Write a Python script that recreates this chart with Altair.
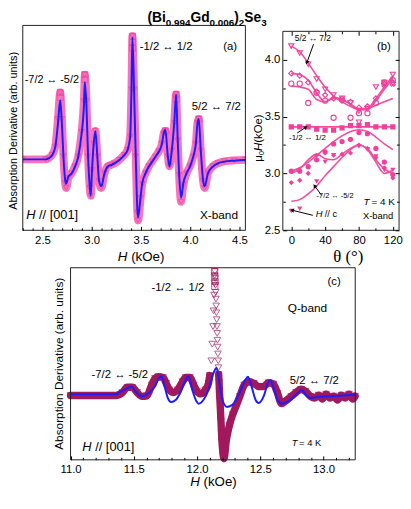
import altair as alt
import pandas as pd

FONT = "Liberation Sans"
SERIF = "Liberation Serif"
BLUE = "#1c1cff"
PINK = "#f0409c"
PINK_BAND = "#f774bc"
MAG = "#a0195c"
B_LINE = "#f24d9f"

# ---------------- Panel (a): X-band spectrum, H // [001] ----------------
a_fit_H = [2.30, 2.53, 2.56, 2.597, 2.63, 2.657, 2.68, 2.697, 2.713, 2.73, 2.74, 2.763, 2.797, 2.83,
           2.863, 2.897, 2.92, 2.93, 2.947, 2.963, 2.98, 2.99, 3.003, 3.02, 3.037, 3.057, 3.073, 3.097,
           3.13, 3.163, 3.197, 3.23, 3.28, 3.33, 3.363, 3.39, 3.403, 3.413, 3.43, 3.447, 3.463, 3.47,
           3.497, 3.513, 3.547, 3.58, 3.613, 3.647, 3.68, 3.713, 3.73, 3.747, 3.773, 3.79, 3.813, 3.837,
           3.857, 3.873, 3.887, 3.907, 3.93, 3.963, 3.997, 4.03, 4.057, 4.073, 4.087, 4.107, 4.13, 4.147,
           4.18, 4.23, 4.28, 4.347, 4.447, 4.56]
a_fit_v = [-1, -1, 0, 3.3, 11.7, 35, 59, 35, 1.7, -21.7, -25.7, -18.3, -15, -8.3,
           1.7, 25, 51.7, 77.7, 51.7, 1.7, -28.3, -37.7, -11.7, 15, 27.7, 1.7, -21.7, -28.3,
           -15, -8.3, -6.7, -5, -1.7, 3.3, 8.3, 21.7, 68, 123, 68, 1.7, -51.7, -60,
           -38.3, -25, -15, -8.3, -3.3, 1.7, 6.7, 15, 25, 29, 1.7, -8.3, 8.3, 35,
           65, 18.3, -15, -40, -25, -15, -8.3, 1.7, 15, 35, 40, 8.3, -21.7, -28.3,
           -15, -8.3, -5, -3.3, -2.3, -1.7]
a_dat_H = [2.30, 2.53, 2.56, 2.597, 2.63, 2.657, 2.68, 2.697, 2.713, 2.73, 2.74, 2.763, 2.797, 2.83,
           2.863, 2.897, 2.92, 2.93, 2.947, 2.963, 2.98, 2.99, 3.003, 3.02, 3.037, 3.057, 3.073, 3.097,
           3.13, 3.163, 3.197, 3.23, 3.28, 3.33, 3.363, 3.39, 3.403, 3.413, 3.43, 3.447, 3.463, 3.47,
           3.497, 3.513, 3.547, 3.58, 3.613, 3.647, 3.68, 3.713, 3.73, 3.747, 3.773, 3.79, 3.813, 3.837,
           3.857, 3.873, 3.887, 3.907, 3.93, 3.963, 3.997, 4.03, 4.057, 4.073, 4.087, 4.107, 4.13, 4.147,
           4.18, 4.23, 4.28, 4.347, 4.447, 4.56]
a_dat_v = [-1, -1, 0, 3.5, 12, 40, 67, 40, 2, -25, -30, -20, -15, -8,
           2, 27, 58, 85, 58, 2, -30, -38, -12, 15, 28, 2, -23, -30,
           -15, -8, -6.5, -5, -1.5, 3.5, 8.5, 22, 70, 124, 70, 2, -55, -63,
           -40, -26, -15, -8, -3, 2, 7, 15, 25, 28, 2, -8, 8, 36,
           65, 18, -17, -44, -27, -15, -8, 2, 15, 36, 40, 8, -23, -30,
           -15, -8, -5, -3, -2, -1.5]
a_sq_H = [2.68, 2.68, 2.93, 2.93, 3.413, 3.413, 3.413, 3.747, 3.857, 3.857, 4.087]
a_sq_v = [67, 62, 85, 80, 124, 118, 112, 28, 65, 60, 40]
a_major = [2.5, 3.0, 3.5, 4.0, 4.5]
a_minor = [2.3, 2.4, 2.6, 2.7, 2.8, 2.9, 3.1, 3.2, 3.3, 3.4, 3.6, 3.7, 3.8, 3.9, 4.1, 4.2, 4.3, 4.4]

# ---------------- Panel (b): angular dependence ----------------
b_theta = [0, 10, 20, 30, 40, 50, 60, 70, 80, 90, 100, 110, 120]
b_otri_theta = [0, 10, 20, 30, 40, 50, 60, 70, 80, 80, 90, 100, 110, 120]
b_otri_H = [4.12, 4.06, 3.96, 3.83, 3.74, 3.69, 3.66, 3.62, 3.55, 3.45, 3.57, 3.76, 3.80, 3.87]
b_ocirc_H = [3.79, 3.79, 3.62, 3.71, 3.64, 3.49, 3.65, 3.49, 3.53, 3.53, 3.62, 3.80, 3.82]
b_odiam_H = [3.88, 3.86, 3.80, 3.72, 3.69, 3.66, 3.64, 3.63, 3.58, 3.59, 3.66, 3.79, 3.80]
b_cross_theta = [110, 120]
b_cross_H = [3.78, 3.79]
b_fsq_H = [3.41, 3.41, 3.41, 3.39, 3.38, 3.38, 3.40, 3.42, 3.42, 3.43, 3.41, 3.41, 3.41]
b_fcirc_H = [3.02, 3.02, 3.06, 3.12, 3.19, 3.26, 3.28, 3.30, 3.36, 3.35, 3.22, 3.10, 2.99]
b_fdiam_H = [2.92, 2.94, 3.00, 3.16, 3.18, 3.16, 3.17, 3.18, 3.25, 3.22, 3.14, 3.05, 2.96]
b_ftri_theta = [0, 10, 30, 40, 50, 80, 90, 100, 110, 120]
b_ftri_H = [2.67, 2.69, 2.93, 3.10, 3.16, 3.24, 3.21, 3.15, 3.03, 3.03]
b_line1 = [4.12, 4.07, 3.97, 3.86, 3.76, 3.68, 3.63, 3.59, 3.56, 3.56, 3.64, 3.74, 3.84]
b_line2 = [3.88, 3.87, 3.82, 3.71, 3.63, 3.67, 3.65, 3.61, 3.56, 3.57, 3.66, 3.76, 3.86]
b_line3 = [3.77, 3.76, 3.74, 3.65, 3.63, 3.66, 3.65, 3.61, 3.57, 3.57, 3.60, 3.63, 3.66]
b_line4 = [3.41, 3.41, 3.41, 3.41, 3.41, 3.41, 3.41, 3.41, 3.41, 3.41, 3.41, 3.41, 3.41]
b_line5 = [3.02, 3.05, 3.10, 3.16, 3.22, 3.28, 3.33, 3.37, 3.385, 3.37, 3.32, 3.26, 3.21]
b_line6 = [3.00, 3.04, 3.12, 3.17, 3.13, 3.12, 3.17, 3.22, 3.25, 3.21, 3.10, 3.00, 3.03]
b_line7 = [2.755, 2.77, 2.82, 2.89, 2.98, 3.06, 3.14, 3.21, 3.25, 3.22, 3.12, 3.04, 3.00]
b_arrow_t0 = [26.3, 6.9, 36.0, 25.5]
b_arrow_H0 = [4.137, 3.355, 2.806, 2.632]
b_arrow_t1 = [18.5, 17.3, 27.5, 1.0]
b_arrow_H1 = [3.975, 3.407, 2.892, 2.677]
b_arrow_angle = [200, 56, 324, 284]
b_x_major = [0, 40, 80, 120]
b_x_minor = [20, 60, 100]
b_y_major = [2.5, 3.0, 3.5, 4.0]
b_y_minor = [2.75, 3.25, 3.75]

# ---------------- Panel (c): Q-band spectrum ----------------
c_fit_H = [11.000, 11.359, 11.385, 11.423, 11.482, 11.513, 11.564, 11.615, 11.667, 11.697, 11.718,
           11.744, 11.769, 11.795, 11.833, 11.872, 11.910, 11.931, 11.962, 11.995, 12.013, 12.051,
           12.090, 12.128, 12.154, 12.174, 12.200, 12.236, 12.282, 12.333, 12.379, 12.402, 12.431,
           12.462, 12.487, 12.526, 12.559, 12.579, 12.602, 12.636, 12.672, 12.718, 12.769, 12.800,
           12.825, 12.859, 12.897, 12.949, 13.025, 13.154, 13.246]
c_fit_v = [1, 1, 2.7, 5.3, 8.7, 3.7, -1.3, 2, 8.7, 17, 19.3,
           8.7, -3, -7, -4.7, 3.7, 15.3, 19.3, 5.3, -6.3, -8.7, -4.7,
           5.3, 22, 27.7, 15, -4.7, -12, -9.7, 1.7, 15, 18.7, 8.7,
           -4.7, -8, -1.3, 12, 15.3, 8.7, -4.7, -8.7, -6.3, -1.3, 2.7,
           5.3, 0.3, -3, -2, -1.3, -0.3, 0.3]
c_dat_H = [11.000, 11.179, 11.359, 11.410, 11.449, 11.487, 11.526, 11.564, 11.603, 11.641, 11.667,
           11.692, 11.731, 11.756, 11.782, 11.808, 11.846, 11.885, 11.910, 11.944, 11.974, 12.000,
           12.031, 12.064, 12.090, 12.100, 12.112, 12.120, 12.126, 12.130, 12.134, 12.137, 12.139,
           12.141, 12.143, 12.145, 12.147, 12.149, 12.151, 12.153, 12.155, 12.157, 12.159, 12.161,
           12.163, 12.165, 12.167, 12.169, 12.171, 12.174, 12.177, 12.181, 12.185, 12.189, 12.193,
           12.197, 12.202, 12.207, 12.213, 12.231, 12.256, 12.282, 12.308, 12.338, 12.372, 12.410,
           12.449, 12.487, 12.526, 12.564, 12.603, 12.636, 12.667, 12.697, 12.744, 12.782, 12.821,
           12.859, 12.897, 12.93, 12.96, 12.99, 13.02, 13.05, 13.08, 13.11, 13.14, 13.17, 13.20,
           13.23, 13.249]
c_dat_v = [-0.3, -0.3, -0.3, 2.7, 8, 8, 2.7, -1.3, -0.7, 10.3, 17,
           18.7, 18, 12, 5.3, 2.7, 5.3, 13.7, 18, 18, 10.3, 3.7,
           1.3, 5.3, 12, 20, 35, 52, 70, 86, 102, 114, 122,
           126, 119, 112, 105, 98, 91, 84, 77, 70, 63, 56,
           49, 42, 35, 28, 21, 13, 4, -6, -16, -27, -38,
           -48, -56, -62, -64.7, -46.3, -30.7, -19.7, -11.3, -1.3, 10.3, 13.7,
           12, 8.7, 8.7, 12.7, 11.3, 2, -8.7, -6.3, -1.3, 2.7, 6,
           3.7, -1.3, -3, 0, -4, 1, -3, -1, -5, 0, -3, 1,
           -4, -1]
# the dense, near-vertical part of the central line is shown by its markers only
c_band_gap = [12.100, 12.171]
c_sq_H = [12.138, 12.140, 12.142, 12.140]
c_sq_v = [126, 121, 116, 111]
c_major = [11.0, 11.5, 12.0, 12.5, 13.0]
c_minor = [11.1, 11.2, 11.3, 11.4, 11.6, 11.7, 11.8, 11.9, 12.1, 12.2, 12.3, 12.4,
           12.6, 12.7, 12.8, 12.9, 13.1, 13.2]


class Panel:
    def __init__(self, xs, xdom, ys, ydom):
        self.xs, self.xdom, self.ys, self.ydom = xs, xdom, ys, ydom

    def pos(self):
        return dict(x=alt.X("px:Q", scale=self.xs, axis=None, title=None),
                    y=alt.Y("py:Q", scale=self.ys, axis=None, title=None))

    def _one(self):
        return pd.DataFrame({"px": [self.xdom[0]], "py": [self.ydom[0]]})

    def txt(self, s, x, y, size=11.0, align="center", baseline="middle", style=None,
            weight=None, angle=None, font=FONT):
        kw = dict(text=s, fontSize=size, align=align, baseline=baseline, font=font,
                  color="black")
        if style:
            kw["fontStyle"] = style
        if weight:
            kw["fontWeight"] = weight
        if angle:
            kw["angle"] = angle
        return alt.Chart(self._one()).mark_text(**kw).encode(
            x=alt.value(x), y=alt.value(y), detail=alt.Detail("px:Q"))

    def axis(self, ch, orient, values, size, extra=0, labels=False, fmt=".1f",
             lsize=11.0, lpad=3):
        kw = dict(orient=orient, values=values, tickSize=size, offset=-(size + extra),
                  labels=labels, domain=False, grid=False, ticks=True, tickColor="black",
                  tickWidth=1, zindex=1, labelFlush=False, labelOverlap=False)
        if labels:
            kw.update(format=fmt, labelFont=FONT, labelFontSize=lsize, labelPadding=lpad,
                      labelColor="black")
        ax = alt.Axis(**kw)
        df = pd.DataFrame({"px": self.xdom, "py": self.ydom})
        if ch == "x":
            enc = dict(x=alt.X("px:Q", scale=self.xs, axis=ax, title=None),
                       y=alt.Y("py:Q", scale=self.ys, axis=None, title=None))
        else:
            enc = dict(x=alt.X("px:Q", scale=self.xs, axis=None, title=None),
                       y=alt.Y("py:Q", scale=self.ys, axis=ax, title=None))
        return alt.Chart(df).mark_point(opacity=0, size=1, strokeWidth=0).encode(**enc)

    def frame(self, x1, x2, y1, y2):
        df = pd.DataFrame({"px": [x1], "px2": [x2], "py": [y1], "py2": [y2]})
        return alt.Chart(df).mark_rect(fill="white", fillOpacity=0, stroke="#222222",
                                       strokeWidth=1).encode(
            x2="px2:Q", y2="py2:Q", **self.pos())


# ---------- build panel (a) ----------
xa = alt.Scale(domain=[2.30, 4.56], nice=False, zero=False)
ya = alt.Scale(domain=[-73, 135], nice=False, zero=False)
PA = Panel(xa, [2.30, 4.56], ya, [-73, 135])
a_fit = pd.DataFrame({"px": a_fit_H, "py": a_fit_v})
a_dat = pd.DataFrame({"px": a_dat_H, "py": a_dat_v})
a_sq = pd.DataFrame({"px": a_sq_H, "py": a_sq_v})

a_layers = [
    alt.Chart(a_dat).mark_line(color=PINK_BAND, strokeWidth=8, interpolate="monotone",
                               strokeCap="round", strokeJoin="round", clip=True).encode(**PA.pos()),
    alt.Chart(a_dat).mark_point(shape="triangle-down", filled=False, color=PINK, size=32,
                                strokeWidth=1, clip=True).encode(**PA.pos()),
    alt.Chart(a_sq).mark_point(shape="square", filled=False, color=PINK, size=38,
                               strokeWidth=1, clip=True).encode(**PA.pos()),
    alt.Chart(a_fit).mark_line(color=BLUE, strokeWidth=2, interpolate="monotone",
                               clip=True).encode(**PA.pos()),
    PA.axis("x", "bottom", a_major, 4, labels=True, lsize=11.5, lpad=4),
    PA.axis("x", "bottom", a_minor, 2.5),
    PA.frame(2.30, 4.56, -73, 135),
    PA.txt("-7/2 \u2194 -5/2", 29.5, 55.5, 11),
    PA.txt("-1/2 \u2194 1/2", 145.5, 21.5, 11.5),
    PA.txt("(a)", 210.5, 21.5, 11.5),
    PA.txt("5/2 \u2194 7/2", 196.5, 82.5, 11.5),
    PA.txt("H", 3.5, 192.5, 13, align="left", style="italic"),
    PA.txt("// [001]", 16.5, 192.5, 13, align="left"),
    PA.txt("X-band", 218.5, 192.5, 12, align="right"),
    PA.txt("H", 96.5, 235.5, 13.5, align="left", style="italic"),
    PA.txt("(kOe)", 110, 235.5, 13.5, align="left"),
    PA.txt("Absorption Derivative (arb. units)", -8.5, 107, 11, angle=270),
    PA.txt("(Bi", 126.5, -3, 14, align="left", baseline="alphabetic", weight="bold"),
    PA.txt("0.994", 145.2, 0.5, 10, align="left", baseline="alphabetic", weight="bold"),
    PA.txt("Gd", 170.2, -3, 14, align="left", baseline="alphabetic", weight="bold"),
    PA.txt("0.006", 189.6, 0.5, 10, align="left", baseline="alphabetic", weight="bold"),
    PA.txt(")", 214.6, -3, 14, align="left", baseline="alphabetic", weight="bold"),
    PA.txt("2", 219.3, 0.5, 10, align="left", baseline="alphabetic", weight="bold"),
    PA.txt("Se", 224.9, -3, 14, align="left", baseline="alphabetic", weight="bold"),
    PA.txt("3", 242, 0.5, 10, align="left", baseline="alphabetic", weight="bold"),
]
panel_a = alt.layer(*a_layers).resolve_axis(x="independent", y="independent").properties(
    width=226, height=208)

# ---------- build panel (b) ----------
xb = alt.Scale(domain=[-10, 127.4], nice=False, zero=False)
yb = alt.Scale(domain=[2.5, 4.302], nice=False, zero=False)
PB = Panel(xb, [-10, 127.4], yb, [2.5, 4.302])

line_rows = []
for name, vals in [("1", b_line1), ("2", b_line2), ("3", b_line3), ("4", b_line4),
                   ("5", b_line5), ("6", b_line6), ("7", b_line7)]:
    for t, h in zip(b_theta, vals):
        line_rows.append({"px": t, "py": h, "line": name})
b_lines_df = pd.DataFrame(line_rows)


def bpts(theta, H, shape, filled, angle=None, size=28):
    kw = dict(shape=shape, filled=filled, color=PINK, size=size, strokeWidth=1.1,
              opacity=1, clip=True)
    if angle:
        kw["angle"] = angle
    return alt.Chart(pd.DataFrame({"px": theta, "py": H})).mark_point(**kw).encode(**PB.pos())


arrows = pd.DataFrame({"px": b_arrow_t0, "py": b_arrow_H0, "px2": b_arrow_t1, "py2": b_arrow_H1})
arrow_tips = pd.DataFrame({"px": b_arrow_t1, "py": b_arrow_H1, "ang": b_arrow_angle})

b_layers = [
    alt.Chart(b_lines_df).mark_line(color=B_LINE, strokeWidth=1.6, interpolate="monotone",
                                    clip=True).encode(detail="line:N", **PB.pos()),
    bpts(b_otri_theta, b_otri_H, "triangle-down", False),
    bpts(b_theta, b_ocirc_H, "circle", False),
    bpts(b_theta, b_odiam_H, "diamond", False),
    bpts(b_cross_theta, b_cross_H, "cross", False, angle=45),
    bpts(b_theta, b_fsq_H, "square", True),
    bpts(b_theta, b_fcirc_H, "circle", True),
    bpts(b_theta, b_fdiam_H, "diamond", True),
    bpts(b_ftri_theta, b_ftri_H, "triangle-down", True),
    alt.Chart(arrows).mark_rule(color="black", strokeWidth=1).encode(
        x2="px2:Q", y2="py2:Q", **PB.pos()),
    alt.Chart(arrow_tips).mark_point(shape="triangle-up", filled=True, color="black", size=18,
                                     opacity=1).encode(
        angle=alt.Angle("ang:Q", scale=None), **PB.pos()),
    PB.axis("x", "bottom", b_x_major, 4, labels=True, fmt="d", lsize=11.5, lpad=4),
    PB.axis("x", "bottom", b_x_minor, 2.5),
    PB.axis("x", "top", b_x_major, 4, extra=6),
    PB.axis("x", "top", b_x_minor, 2.5, extra=6),
    PB.axis("y", "left", b_y_major, 4, labels=True, lsize=11.5, lpad=3),
    PB.axis("y", "left", b_y_minor, 2.5),
    PB.axis("y", "right", b_y_major, 4),
    PB.axis("y", "right", b_y_minor, 2.5),
    PB.frame(-10, 127.4, 2.5, 4.25),
    PB.txt("5/2 \u2194 7/2", 30.5, 12.5, 8.5),
    PB.txt("-1/2 \u2194 1/2", 25, 114.5, 8),
    PB.txt("-7/2 \u2194 -5/2", 53, 173.5, 7.5),
    PB.txt("H", 33.5, 191.5, 9.5, align="left", style="italic"),
    PB.txt("// c", 42.5, 191.5, 9.5, align="left"),
    PB.txt("T", 82, 179.5, 10, align="left", style="italic"),
    PB.txt("= 4 K", 90, 179.5, 10, align="left"),
    PB.txt("X-band", 112, 193.5, 9.5, align="right"),
    PB.txt("(b)", 102.5, 21.5, 11.5),
    PB.txt("\u03b8 (\u00b0)", 66.5, 235.5, 17, font=SERIF),
    PB.txt("\u03bc", -24.5, 138.5, 11.5, align="left", angle=270),
    PB.txt("0", -21.5, 131.9, 8, align="left", angle=270),
    PB.txt("H", -24.5, 127.4, 11.5, align="left", angle=270, style="italic"),
    PB.txt(" (kOe)", -24.5, 119.1, 11.5, align="left", angle=270),
]
panel_b = alt.layer(*b_layers).resolve_axis(x="independent", y="independent").properties(
    width=118, height=208)

# ---------- build panel (c) ----------
# the view is as wide as panel (a); the x range places the plot further right
xc = alt.Scale(domain=[11.0, 13.25], range=[48.5, 337.5], nice=False, zero=False)
yc = alt.Scale(domain=[-66, 130], nice=False, zero=False)
PC = Panel(xc, [11.0, 13.25], yc, [-66, 130])
c_fit = pd.DataFrame({"px": c_fit_H, "py": c_fit_v})
c_dat = pd.DataFrame({"px": c_dat_H, "py": c_dat_v})
c_dat["seg"] = ["low" if h <= c_band_gap[0] else ("high" if h >= c_band_gap[1] else "gap")
                for h in c_dat_H]
c_sq = pd.DataFrame({"px": c_sq_H, "py": c_sq_v})

c_layers = [
    alt.Chart(c_dat).transform_filter("datum.seg != 'gap'").mark_line(
        color=MAG, strokeWidth=7.5, interpolate="monotone", strokeCap="round",
        strokeJoin="round").encode(detail="seg:N", **PC.pos()),
    alt.Chart(c_dat).mark_point(shape="triangle-down", filled=False, color=MAG, size=45,
                                strokeWidth=1).encode(**PC.pos()),
    alt.Chart(c_sq).mark_point(shape="square", filled=False, color=MAG, size=40,
                               strokeWidth=1).encode(**PC.pos()),
    alt.Chart(c_fit).mark_line(color=BLUE, strokeWidth=2, interpolate="monotone").encode(**PC.pos()),
    PC.axis("x", "bottom", c_major, 4, labels=True, lsize=11.5, lpad=4),
    PC.axis("x", "bottom", c_minor, 2.5),
    PC.frame(11.0, 13.25, -66, 130),
    PC.txt("-1/2 \u2194 1/2", 157.5, 20.5, 11.5),
    PC.txt("(c)", 316, 14.5, 11.5),
    PC.txt("Q-band", 289, 40.5, 12),
    PC.txt("-7/2 \u2194 -5/2", 98.5, 108.5, 11.5),
    PC.txt("5/2 \u2194 7/2", 296, 115.5, 11.5),
    PC.txt("H", 60.5, 182, 13, align="left", style="italic"),
    PC.txt("// [001]", 73.5, 182, 13, align="left"),
    PC.txt("T", 273, 178, 9.5, align="left", style="italic"),
    PC.txt("= 4 K", 280.5, 178, 9.5, align="left"),
    PC.txt("H", 170, 218, 13.5, align="left", style="italic"),
    PC.txt("(kOe)", 183.5, 218, 13.5, align="left"),
    PC.txt("Absorption Derivative (arb. units)", 36.5, 97.5, 12, angle=270),
]
panel_c = alt.layer(*c_layers).resolve_axis(x="independent", y="independent").properties(
    width=226, height=195)

chart = alt.concat(panel_a, panel_b, panel_c, columns=2,
                   spacing={"row": 38, "column": 38}, bounds="flush",
                   align="none").properties(padding=0).configure_view(strokeWidth=0)

chart.save("out.html", embed_options={"renderer": "svg", "actions": False})
